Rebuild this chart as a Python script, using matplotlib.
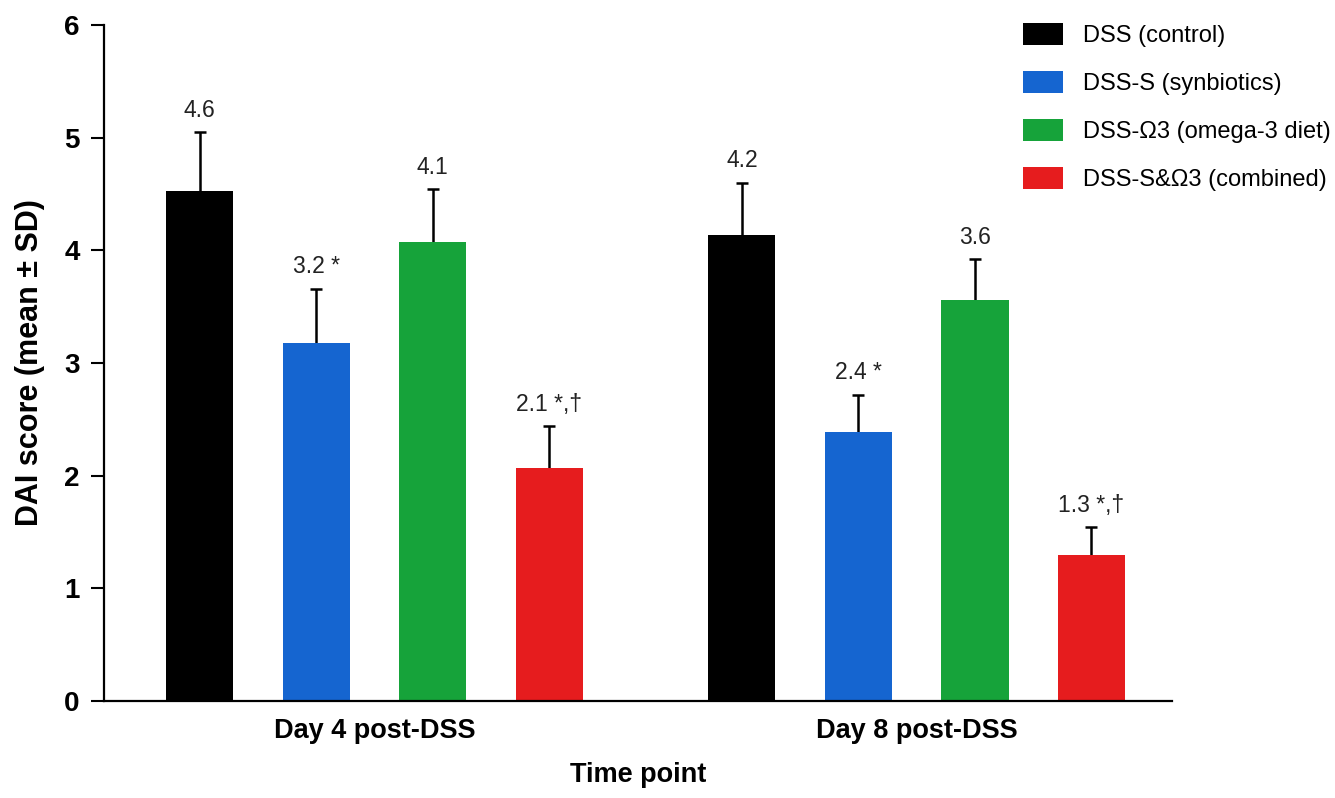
import matplotlib
matplotlib.use("Agg")
import matplotlib.pyplot as plt
import numpy as np

plt.rcParams['font.family'] = ['Liberation Sans', 'DejaVu Sans']

# ---- data ----
groups = ["Day 4 post-DSS", "Day 8 post-DSS"]
series = ["DSS (control)", "DSS-S (synbiotics)", "DSS-\u03a93 (omega-3 diet)", "DSS-S&\u03a93 (combined)"]
control_mean = [4.53, 4.14]
synbiotic_mean = [3.18, 2.39]
omega_mean = [4.07, 3.56]
combined_mean = [2.07, 1.30]
control_sd = [0.52, 0.46]
synbiotic_sd = [0.48, 0.33]
omega_sd = [0.47, 0.36]
combined_sd = [0.37, 0.24]
control_lbl = ["4.6", "4.2"]
synbiotic_lbl = ["3.2 *", "2.4 *"]
omega_lbl = ["4.1", "3.6"]
combined_lbl = ["2.1 *,\u2020", "1.3 *,\u2020"]
y_ticks = [0, 1, 2, 3, 4, 5, 6]

means = [control_mean, synbiotic_mean, omega_mean, combined_mean]
sds = [control_sd, synbiotic_sd, omega_sd, combined_sd]
lbls = [control_lbl, synbiotic_lbl, omega_lbl, combined_lbl]
colors = ["#000000", "#1565D0", "#16A33A", "#E61C1E"]

fig = plt.figure(figsize=(13.35, 7.98), dpi=100)
ax = fig.add_axes([104/1335, 97/798, 1068/1335, 676/798])

x = np.arange(len(groups))
spacing = 0.215
width = 0.124
for i, (m, s, lb, c, name) in enumerate(zip(means, sds, lbls, colors, series)):
    pos = x + (i - 1.5) * spacing
    ax.bar(pos, m, width=width, color=c, label=name, zorder=2)
    eb = ax.errorbar(pos, m, yerr=[np.zeros(len(s)), s], fmt='none', ecolor='black',
                     elinewidth=1.8, capsize=4, capthick=1.8, zorder=1)
    eb[1][0].set_visible(False)  # hide lower cap
    for p, mv, sv, t in zip(pos, m, s, lb):
        ax.annotate(t, (p, mv + sv), xytext=(0, 11), textcoords='offset points',
                    ha='center', va='baseline', fontsize=16.5, color='#222222')

ax.set_xlim(-0.499, 1.471)
ax.set_ylim(0, 6)
ax.set_yticks(y_ticks)
ax.set_xticks(x)
ax.set_xticklabels(groups, fontsize=19.5, fontweight='bold')
ax.tick_params(axis='x', length=0, pad=12)
ax.tick_params(axis='y', length=9.5, width=1.5, pad=8, labelsize=20)
for t in ax.get_yticklabels():
    t.set_fontweight('bold')
for sp in ['top', 'right']:
    ax.spines[sp].set_visible(False)
for sp in ['left', 'bottom']:
    ax.spines[sp].set_linewidth(1.6)

ax.set_ylabel("DAI score (mean \u00b1 SD)", fontsize=22, fontweight='bold', labelpad=14)
ax.set_xlabel("Time point", fontsize=19.5, fontweight='bold', labelpad=13)

ax.legend(loc='upper left', bbox_to_anchor=(1023/1335, 1 - 23/798),
          bbox_transform=fig.transFigure, frameon=False, fontsize=17,
          handlelength=1.69, handleheight=1.05, handletextpad=0.85,
          labelspacing=1.02, borderpad=0, borderaxespad=0)

fig.savefig("out.png", dpi=100, facecolor='white')
